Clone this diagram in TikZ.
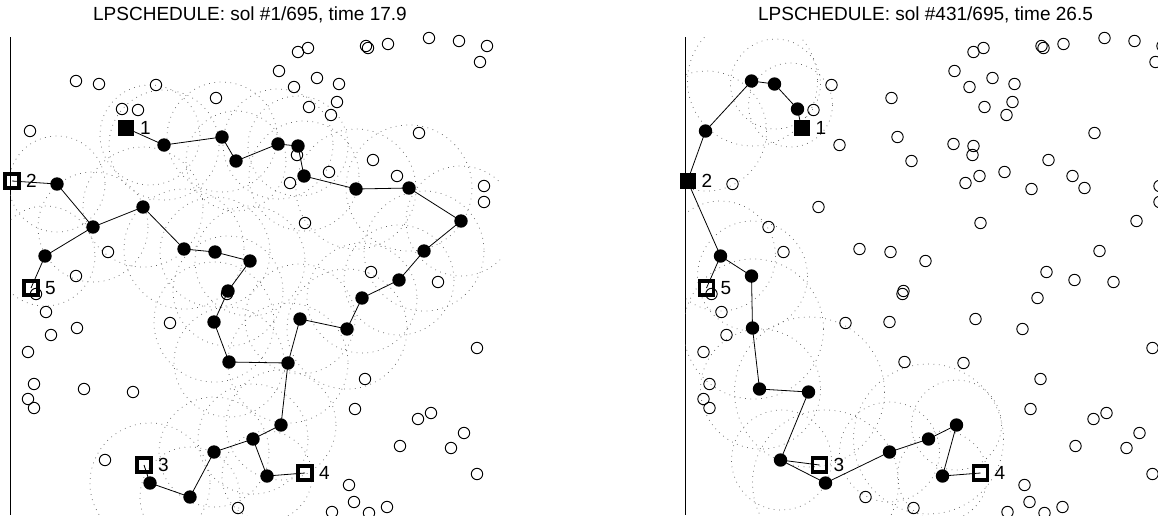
\documentclass[tikz,border=0pt]{standalone}
\usepackage{fontspec}
\setmainfont{Liberation Sans}
\begin{document}
\begin{tikzpicture}[x=1pt,y=-1pt,
  opn/.style={circle,draw,line width=0.95pt,minimum size=11.4pt,inner sep=0pt},
  sel/.style={circle,fill=black,minimum size=13.4pt,inner sep=0pt},
  sqf/.style={rectangle,fill=black,minimum size=16pt,inner sep=0pt},
  sqo/.style={rectangle,draw,line width=3.2pt,minimum size=14pt,inner sep=0pt},
  lnk/.style={line width=0.8pt},
  rng/.style={draw=black!60,line width=0.75pt,dash pattern=on 0.75pt off 4.6pt},
  lbl/.style={anchor=base west,inner sep=0pt,font=\fontsize{19}{22}\selectfont},
  ttl/.style={anchor=base,inner sep=0pt,font=\fontsize{19}{22}\selectfont},
  axisline/.style={line width=0.9pt}]
\useasboundingbox (0,0) rectangle (1158,515);
\clip (0,0) rectangle (1158,515);

% ---------------- left panel ----------------
\begin{scope}
\node[ttl] (Lt) at (250,20.7) {LPSCHEDULE: sol \#1/695, time 17.9};
\draw[axisline] (10,37) -- (10,515);
\begin{scope}
\clip (10,37) rectangle (500,515);
\foreach \x/\y/\r in {150/135/50,164/145/55,222/137/55,236/161/50,278/144/55,298/146/50,304/176/55,356/189/60,409/188/63,461/221/55,424/251/60,399/280/55,362/298/55,347/329/60,300/319/55,288/363/60,281/425/55,253/439/55,267/476/45,214/452/55,190/497/50,150/483/60,57/184/48,93/227/55,143/207/60,184/249/60,215/252/55,250/261/55,228/291/55,214/322/60,229/362/55,45/256/50}
  \draw[rng] (\x,\y) circle[radius=\r];
\end{scope}
\foreach \n/\x/\y in {s1/126/128,s2/12/181,s3/144/465,s4/305/473,s5/31/288,
  f1/164/145,f2/222/137,f3/236/161,f4/278/144,f5/298/146,f6/304/176,f7/356/189,f8/409/188,f9/461/221,f10/424/251,
  f11/399/280,f12/362/298,f13/347/329,f14/300/319,f15/288/363,f16/281/425,f17/253/439,f18/267/476,f19/214/452,f20/190/497,
  f21/150/483,f22/57/184,f23/93/227,f24/143/207,f25/184/249,f26/215/252,f27/250/261,f28/228/291,f29/214/322,f30/229/362,f31/45/256}
  \coordinate (L\n) at (\x,\y);
\draw[lnk] (Ls1) -- (Lf1) -- (Lf2) -- (Lf3) -- (Lf4) -- (Lf5) -- (Lf6) -- (Lf7) -- (Lf8) -- (Lf9) -- (Lf10) -- (Lf11) -- (Lf12) -- (Lf13) -- (Lf14) -- (Lf15) -- (Lf16) -- (Lf17) -- (Lf18) -- (Ls4);
\draw[lnk] (Lf17) -- (Lf19) -- (Lf20) -- (Lf21) -- (Ls3);
\draw[lnk] (Ls2) -- (Lf22) -- (Lf23) -- (Lf24) -- (Lf25) -- (Lf26) -- (Lf27) -- (Lf28) -- (Lf29) -- (Lf30) -- (Lf15);
\draw[lnk] (Lf23) -- (Lf31) -- (Ls5);
\foreach \x/\y [count=\i] in {156/85,216/98,138/110,108/252,298/52,308/48,366/46,368/48,388/44,429/38,459/41,487/46,480/62,279/71,317/78,339/84,294/87,337/102,309/107,331/115,419/133,373/160,297/155,329/172,290/183,397/176,484/186,484/202,305/223,36/294,46/312,51/335,28/352,170/323,34/384,28/399,34/408,238/508,227/294,371/272,438/282,477/348,365/379,355/409,418/419,431/413,464/433,451/448,400/446,477/474,349/485,354/502,369/513,387/507,332/512,
  76/81,99/84,122/109,30/131,76/276,77/328,84/389,133/392,105/460}
  \node[opn] (Lo\i) at (\x,\y) {};
\foreach \n in {f1,f2,f3,f4,f5,f6,f7,f8,f9,f10,f11,f12,f13,f14,f15,f16,f17,f18,f19,f20,f21,f22,f23,f24,f25,f26,f27,f28,f29,f30,f31}
  \node[sel] (LN\n) at (L\n) {};
\node[sqf] (LS1) at (Ls1) {};
\node[sqo] (LS2) at (Ls2) {};
\node[sqo] (LS3) at (Ls3) {};
\node[sqo] (LS4) at (Ls4) {};
\node[sqo] (LS5) at (Ls5) {};
\node[lbl] (Ll1) at ([xshift=14pt,yshift=-6.7pt]Ls1) {1};
\node[lbl] (Ll2) at ([xshift=14pt,yshift=-6.7pt]Ls2) {2};
\node[lbl] (Ll3) at ([xshift=14pt,yshift=-6.7pt]Ls3) {3};
\node[lbl] (Ll4) at ([xshift=14pt,yshift=-6.7pt]Ls4) {4};
\node[lbl] (Ll5) at ([xshift=14pt,yshift=-6.7pt]Ls5) {5};
\end{scope}

% ---------------- right panel ----------------
\begin{scope}[xshift=675.5pt]
\node[ttl] (Rt) at (250,20.7) {LPSCHEDULE: sol \#431/695, time 26.5};
\draw[axisline] (9.5,37) -- (9.5,515);
\begin{scope}
\clip (9.5,37) rectangle (500,515);
\foreach \x/\y/\r in {115/105/42,100/84/45,77/81/65,31/131/60,45/256/55,77/276/55,78/329/70,85/389/60,134/392/75,106/460/50,150/483/73,214/452/50,253/439/75,281/425/45,267/476/45}
  \draw[rng] (\x,\y) circle[radius=\r];
\end{scope}
\foreach \n/\x/\y in {s1/126/128,s2/12/181,s3/144/465,s4/305/473,s5/31/288,
  b1/76/81,b2/99/84,b3/122/109,b4/30/131,b5/76/276,b6/77/328,b7/84/389,b8/133/392,b9/105/460,
  f31/45/256,f21/150/483,f19/214/452,f17/253/439,f16/281/425,f18/267/476}
  \coordinate (R\n) at (\x,\y);
\draw[lnk] (Rs1) -- (Rb3) -- (Rb2) -- (Rb1) -- (Rb4) -- (Rs2) -- (Rf31) -- (Rs5);
\draw[lnk] (Rf31) -- (Rb5) -- (Rb6) -- (Rb7) -- (Rb8) -- (Rb9) -- (Rs3);
\draw[lnk] (Rb9) -- (Rf21) -- (Rf19) -- (Rf17) -- (Rf16) -- (Rf18) -- (Rs4);
\foreach \x/\y [count=\i] in {156/85,216/98,138/110,108/252,298/52,308/48,366/46,368/48,388/44,429/38,459/41,487/46,480/62,279/71,317/78,339/84,294/87,337/102,309/107,331/115,419/133,373/160,297/155,329/172,290/183,397/176,484/186,484/202,305/223,36/294,46/312,51/335,28/352,170/323,34/384,28/399,34/408,238/508,227/294,371/272,438/282,477/348,365/379,355/409,418/419,431/413,464/433,451/448,400/446,477/474,349/485,354/502,369/513,387/507,332/512,
  164/145,222/137,236/161,278/144,298/146,304/176,356/189,409/188,461/221,424/251,399/280,362/298,347/329,300/319,288/363,190/497,57/184,93/227,143/207,184/249,215/252,250/261,228/291,214/322,229/362}
  \node[opn] (Ro\i) at (\x,\y) {};
\foreach \n in {b1,b2,b3,b4,b5,b6,b7,b8,b9,f31,f21,f19,f17,f16,f18}
  \node[sel] (RN\n) at (R\n) {};
\node[sqf] (RS1) at (Rs1) {};
\node[sqf] (RS2) at (Rs2) {};
\node[sqo] (RS3) at (Rs3) {};
\node[sqo] (RS4) at (Rs4) {};
\node[sqo] (RS5) at (Rs5) {};
\node[lbl] (Rl1) at ([xshift=14pt,yshift=-6.7pt]Rs1) {1};
\node[lbl] (Rl2) at ([xshift=14pt,yshift=-6.7pt]Rs2) {2};
\node[lbl] (Rl3) at ([xshift=14pt,yshift=-6.7pt]Rs3) {3};
\node[lbl] (Rl4) at ([xshift=14pt,yshift=-6.7pt]Rs4) {4};
\node[lbl] (Rl5) at ([xshift=14pt,yshift=-6.7pt]Rs5) {5};
\end{scope}
\end{tikzpicture}
\end{document}
